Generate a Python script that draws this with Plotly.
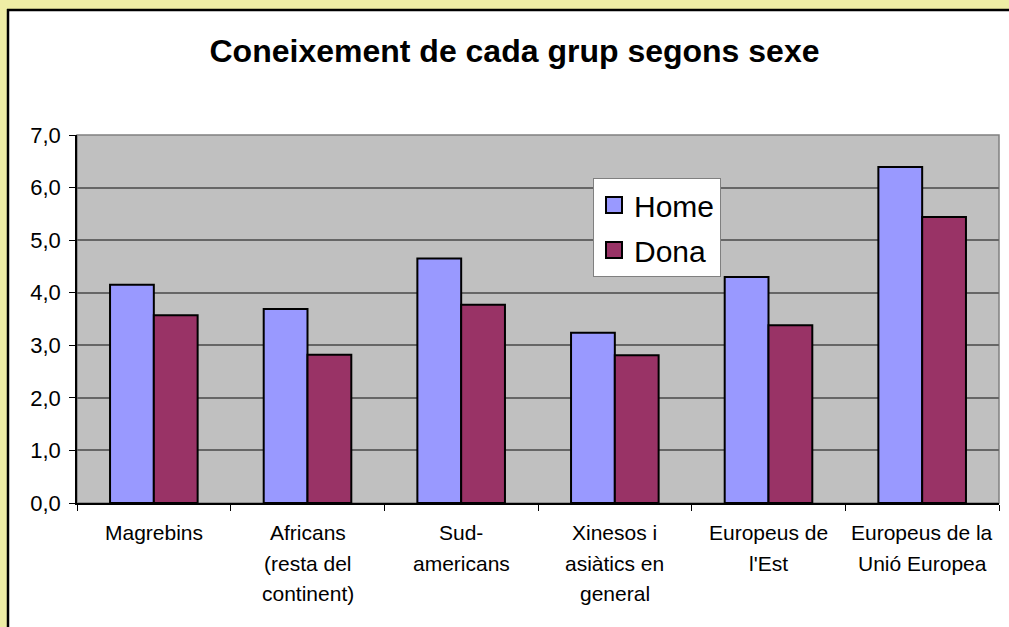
import plotly.graph_objects as go

# ---- data ----
categories = ["Magrebins", "Africans (resta del continent)", "Sud-americans",
              "Xinesos i asiàtics en general", "Europeus de l'Est",
              "Europeus de la Unió Europea"]
label_lines = [["Magrebins"],
               ["Africans", "(resta del", "continent)"],
               ["Sud-", "americans"],
               ["Xinesos i", "asiàtics en", "general"],
               ["Europeus de", "l'Est"],
               ["Europeus de la", "Unió Europea"]]
home = [4.15, 3.69, 4.65, 3.24, 4.30, 6.39]
dona = [3.57, 2.82, 3.77, 2.81, 3.38, 5.44]
series_names = ["Home", "Dona"]
y_ticks = [0, 1, 2, 3, 4, 5, 6, 7]
title_text = "Coneixement de cada grup segons sexe"

# ---- layout geometry ----
W, H = 1009, 627
L, R, T, B = 77, 10, 135, 124
PW, PH = W - L - R, H - T - B
FONT = "Liberation Sans, Arial, sans-serif"
YELLOW = "#EEEDA5"
C_HOME = "#9999FF"
C_DONA = "#993366"


def px(x):
    return (x - L) / PW


def py(y):
    return (H - B - y) / PH


fig = go.Figure()
fig.add_trace(go.Bar(x=categories, y=home, name=series_names[0],
                     marker=dict(color=C_HOME, line=dict(color="black", width=2)),
                     showlegend=False))
fig.add_trace(go.Bar(x=categories, y=dona, name=series_names[1],
                     marker=dict(color=C_DONA, line=dict(color="black", width=2)),
                     showlegend=False))
# legend entries
for nm, col, grp in [(series_names[0], C_HOME, "h"), (series_names[1], C_DONA, "d")]:
    fig.add_trace(go.Scatter(x=[None], y=[None], mode="markers", name=nm,
                             legendgroup=grp,
                             marker=dict(symbol="square", size=16, color=col,
                                         line=dict(color="black", width=2))))

shapes = [
    # yellow outer strips
    dict(type="rect", xref="paper", yref="paper", x0=px(0), x1=px(W), y0=py(0), y1=py(9),
         fillcolor=YELLOW, line=dict(width=0), layer="below"),
    dict(type="rect", xref="paper", yref="paper", x0=px(0), x1=px(7), y0=py(0), y1=py(H),
         fillcolor=YELLOW, line=dict(width=0), layer="below"),
    # black border of the chart panel
    dict(type="line", xref="paper", yref="paper", x0=px(7), x1=px(W + 5), y0=py(10), y1=py(10),
         line=dict(color="black", width=2.5), layer="below"),
    dict(type="line", xref="paper", yref="paper", x0=px(8), x1=px(8), y0=py(9), y1=py(H + 5),
         line=dict(color="black", width=2.5), layer="below"),
    # plot area border
    dict(type="rect", xref="paper", yref="paper", x0=0, x1=1, y0=0, y1=1,
         line=dict(color="#808080", width=1.5), layer="below"),
]

annotations = []
line_y = [532.5, 563, 593.5]
for cat, lines in zip(categories, label_lines):
    for i, txt in enumerate(lines):
        annotations.append(dict(x=cat, xref="x", y=py(line_y[i]), yref="paper",
                                text=txt, showarrow=False, xanchor="center",
                                yanchor="middle",
                                font=dict(family=FONT, size=21, color="black")))

fig.update_layout(
    width=W, height=H,
    margin=dict(l=L, r=R, t=T, b=B, pad=0),
    paper_bgcolor="white",
    plot_bgcolor="#C0C0C0",
    separators=", ",
    barmode="group", bargap=0.43, bargroupgap=0,
    title=dict(text="<b>" + title_text + "</b>", x=px(514.5), xref="paper", xanchor="center",
               y=1 - 51 / H, yref="container", yanchor="middle",
               font=dict(family=FONT, size=32, color="black")),
    font=dict(family=FONT, size=21, color="black"),
    legend=dict(x=px(593), y=py(178), xanchor="left", yanchor="top",
                bgcolor="white", bordercolor="#808080", borderwidth=1,
                font=dict(family=FONT, size=30, color="black"),
                tracegroupgap=3, traceorder="grouped", itemclick=False),
    shapes=shapes,
    annotations=annotations,
    xaxis=dict(showticklabels=False, showgrid=False, showline=True, linecolor="black",
               linewidth=1.5, ticks="outside", ticklen=6, tickcolor="black",
               tickwidth=1, tickson="boundaries", range=[-0.5, 5.5], fixedrange=True),
    yaxis=dict(range=[0, 7], tickvals=y_ticks, tickformat=".1f", showgrid=True,
               gridcolor="#666666", gridwidth=1.5, showline=True, linecolor="black",
               linewidth=1.5, ticks="outside", ticklen=6, tickcolor="black",
               tickwidth=1, zeroline=False, ticklabelstandoff=4,
               tickfont=dict(family=FONT, size=22, color="black"), fixedrange=True),
)

fig.write_html("out.html",
               config={"displayModeBar": False},
               post_script="document.body.style.margin='0';"
                           "document.body.style.overflow='hidden';")
